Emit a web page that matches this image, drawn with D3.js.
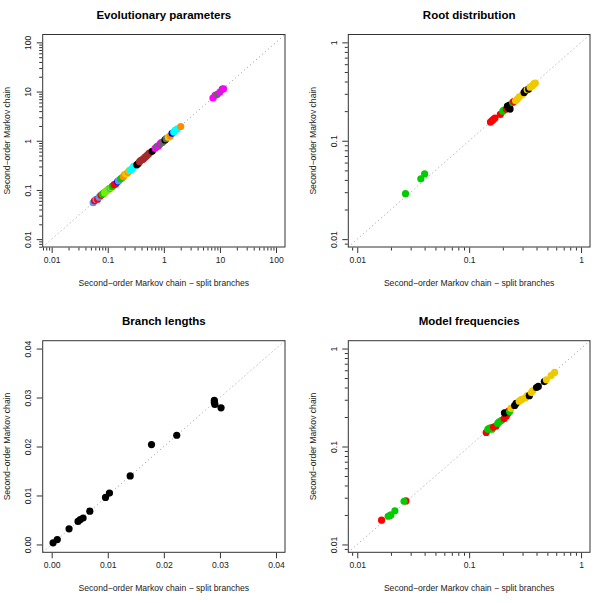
<!DOCTYPE html>
<html>
<head>
<meta charset="utf-8">
<script src="https://cdn.jsdelivr.net/npm/d3@7"></script>
<style>
  html, body { margin: 0; padding: 0; background: #fff; }
  svg { display: block; font-family: "Liberation Sans", Arial, Helvetica, sans-serif; }
</style>
</head>
<body>
<svg id="chart" width="600" height="603"></svg>
<script>
// ---------------- DATA ----------------
const titles = ["Evolutionary parameters", "Root distribution", "Branch lengths", "Model frequencies"];
const xAxisLabel = "Second\u2212order Markov chain \u2212 split branches";
const yAxisLabel = "Second\u2212order Markov chain";

const logTicksWide = [0.01, 0.1, 1, 10, 100];
const logTickLabelsWide = ["0.01", "0.1", "1", "10", "100"];
const logTicksNarrow = [0.01, 0.1, 1];
const logTickLabelsNarrow = ["0.01", "0.1", "1"];
const linTicks = [0, 0.01, 0.02, 0.03, 0.04];
const linTickLabels = ["0.00", "0.01", "0.02", "0.03", "0.04"];

// Panel 1: evolutionary parameters
const evoX = [0.055,0.058,0.062,0.066,0.070,0.073,0.076,0.080,0.085,0.088,0.092,0.096,0.100,0.105,0.110,0.115,0.120,0.130,0.140,0.150,0.155,0.160,0.170,0.180,0.190,0.200,0.210,0.220,0.230,0.240,0.250,0.270,0.290,0.310,0.330,0.350,0.370,0.390,0.410,0.430,0.450,0.470,0.500,0.520,0.550,0.620,0.700,0.750,0.800,0.850,0.900,0.950,1.050,1.100,1.200,1.300,1.400,1.500,1.600,1.750,2.000,7.5,8.2,9.0,10.0,11.0,11.6];
const evoY = [0.055,0.060,0.064,0.065,0.071,0.075,0.078,0.082,0.086,0.087,0.094,0.097,0.100,0.106,0.108,0.112,0.118,0.128,0.133,0.148,0.152,0.158,0.168,0.176,0.185,0.205,0.210,0.215,0.228,0.245,0.252,0.268,0.300,0.305,0.325,0.345,0.375,0.400,0.410,0.425,0.450,0.470,0.500,0.525,0.560,0.610,0.700,0.760,0.780,0.850,0.920,0.930,1.040,1.100,1.180,1.250,1.420,1.500,1.650,1.750,1.950,7.4,8.4,8.8,9.8,11.2,11.4];
const evoCol = ["cornflowerblue","red","cornflowerblue","red","cornflowerblue","cornflowerblue","red","green3","green3","chartreuse2","chartreuse2","chartreuse2","chartreuse2","chartreuse2","cornflowerblue","chartreuse2","green3","red","red","blue","cornflowerblue","cornflowerblue","green3","green3","darkorange","darkorange","gold","gold","darkorange","gold","cyan","cyan","cyan","cyan","black","black","brown","brown","brown","brown","brown","brown","brown","brown","brown","black","magenta","gray40","magenta","gray40","magenta","gray40","black","gray40","gold","darkorange","blue","cyan","cyan","cyan","darkorange","magenta","magenta","gray40","magenta","gray40","magenta"];

// Panel 2: root distribution
const rootX = [0.027,0.037,0.040,0.155,0.160,0.165,0.170,0.190,0.200,0.205,0.215,0.220,0.225,0.230,0.232,0.245,0.250,0.260,0.270,0.280,0.300,0.310,0.320,0.330,0.340,0.350,0.360,0.370,0.380,0.390];
const rootY = [0.029,0.041,0.046,0.155,0.160,0.165,0.170,0.185,0.200,0.205,0.210,0.225,0.215,0.230,0.210,0.245,0.250,0.255,0.265,0.280,0.295,0.310,0.325,0.330,0.335,0.350,0.355,0.365,0.380,0.385];
const rootCol = ["green3","green3","green3","red","red","red","red","red","green3","green3","red","black","black","black","black","green3","red","gold","gold","gold","gold","black","black","gold","black","gold","gold","gold","gold","gold"];

// Panel 3: branch lengths
const branchX = [0.00025,0.0010,0.0031,0.0047,0.0051,0.0056,0.0068,0.0096,0.0103,0.0140,0.0178,0.0223,0.0290,0.0290,0.0291,0.0302];
const branchY = [0.00033,0.0010,0.0032,0.0047,0.0051,0.0054,0.0068,0.0096,0.0105,0.0140,0.0204,0.0223,0.0294,0.0290,0.0286,0.0279];
const branchCol = ["black","black","black","black","black","black","black","black","black","black","black","black","black","black","black","black"];

// Panel 4: model frequencies
const freqX = [0.0165,0.0196,0.0189,0.0200,0.0217,0.0272,0.0262,0.142,0.147,0.150,0.155,0.160,0.165,0.174,0.180,0.185,0.195,0.205,0.215,0.220,0.225,0.207,0.230,0.237,0.255,0.263,0.280,0.290,0.300,0.320,0.330,0.345,0.360,0.370,0.400,0.415,0.470,0.490,0.540,0.580];
const freqY = [0.0177,0.0197,0.0194,0.0200,0.0221,0.0278,0.0276,0.139,0.150,0.152,0.155,0.150,0.158,0.162,0.172,0.178,0.185,0.192,0.205,0.215,0.230,0.220,0.227,0.245,0.262,0.275,0.290,0.300,0.305,0.315,0.330,0.330,0.355,0.370,0.400,0.410,0.460,0.480,0.530,0.570];
const freqCol = ["red","red","green3","green3","green3","red","green3","red","green3","green3","green3","green3","red","red","green3","green3","green3","red","red","red","red","black","green3","gold","black","black","gold","gold","gold","gold","gold","black","gold","gold","black","black","black","gold","gold","gold"];

// ---------------- LAYOUT ----------------
const colorMap = {
  cornflowerblue: "#6495ED", red: "#FF0000", green3: "#00CD00", chartreuse2: "#76EE00",
  blue: "#0000FF", darkorange: "#FF8C00", gold: "#EEC900", cyan: "#00FFFF",
  black: "#000000", brown: "#A52A2A", magenta: "#FF00FF", gray40: "#666666"
};

const boxes = [
  {l: 42.7, r: 285, t: 34.5, b: 247},
  {l: 348.3, r: 590, t: 34.5, b: 247},
  {l: 42.7, r: 285, t: 340.7, b: 552.3},
  {l: 348.3, r: 590, t: 340.7, b: 552.3}
];

const panels = [
  {type: "log", lo: 0.01, hi: 100, ticks: logTicksWide, labels: logTickLabelsWide, x: evoX, y: evoY, c: evoCol},
  {type: "log", lo: 0.01, hi: 1, ticks: logTicksNarrow, labels: logTickLabelsNarrow, x: rootX, y: rootY, c: rootCol},
  {type: "lin", lo: 0, hi: 0.04, ticks: linTicks, labels: linTickLabels, x: branchX, y: branchY, c: branchCol},
  {type: "log", lo: 0.01, hi: 1, ticks: logTicksNarrow, labels: logTickLabelsNarrow, x: freqX, y: freqY, c: freqCol}
];

const svg = d3.select("#chart");
const axisColor = "#333";

panels.forEach((p, i) => {
  const bx = boxes[i];
  let xs, ys, dom;
  if (p.type === "log") {
    const a = Math.log10(p.lo), b = Math.log10(p.hi), e = (b - a) * 0.04;
    dom = [Math.pow(10, a - e), Math.pow(10, b + e)];
    xs = d3.scaleLog().domain(dom).range([bx.l, bx.r]);
    ys = d3.scaleLog().domain(dom).range([bx.b, bx.t]);
  } else {
    const e = (p.hi - p.lo) * 0.04;
    dom = [p.lo - e, p.hi + e];
    xs = d3.scaleLinear().domain(dom).range([bx.l, bx.r]);
    ys = d3.scaleLinear().domain(dom).range([bx.b, bx.t]);
  }
  const g = svg.append("g");

  // minor ticks for log axes
  let minor = [];
  if (p.type === "log") {
    for (let d = Math.floor(Math.log10(dom[0])); d <= Math.ceil(Math.log10(dom[1])); d++) {
      for (let k = 2; k <= 9; k++) {
        const v = k * Math.pow(10, d);
        if (v >= dom[0] && v <= dom[1]) minor.push(v);
      }
    }
  }

  // x axis
  const xAxis = d3.axisBottom(xs).tickValues(p.ticks).tickFormat((d, j) => p.labels[j]).tickSize(5.5).tickPadding(3.5).tickSizeOuter(0);
  const gx = g.append("g").attr("transform", `translate(0,${bx.b + 0.5})`).call(xAxis);
  gx.select(".domain").remove();
  gx.selectAll("line").attr("stroke", axisColor);
  gx.selectAll("text").attr("font-size", "8.6px").attr("fill", "#222").attr("font-family", "Liberation Sans, Arial, sans-serif");
  if (minor.length) {
    const mx = d3.axisBottom(xs).tickValues(minor).tickFormat("").tickSize(3).tickSizeOuter(0);
    const gmx = g.append("g").attr("transform", `translate(0,${bx.b + 0.5})`).call(mx);
    gmx.select(".domain").remove();
    gmx.selectAll("line").attr("stroke", axisColor);
  }
  // y axis
  const yAxis = d3.axisLeft(ys).tickValues(p.ticks).tickFormat((d, j) => p.labels[j]).tickSize(5.5).tickPadding(3.5).tickSizeOuter(0);
  const gy = g.append("g").attr("transform", `translate(${bx.l - 0.5},0)`).call(yAxis);
  gy.select(".domain").remove();
  gy.selectAll("line").attr("stroke", axisColor);
  gy.selectAll("text")
    .attr("font-size", "8.6px").attr("fill", "#222").attr("font-family", "Liberation Sans, Arial, sans-serif")
    .attr("x", null).attr("dy", null)
    .attr("text-anchor", "middle")
    .attr("transform", "translate(-11,0) rotate(-90)")
    .attr("y", 0);
  if (minor.length) {
    const my = d3.axisLeft(ys).tickValues(minor).tickFormat("").tickSize(3).tickSizeOuter(0);
    const gmy = g.append("g").attr("transform", `translate(${bx.l - 0.5},0)`).call(my);
    gmy.select(".domain").remove();
    gmy.selectAll("line").attr("stroke", axisColor);
  }

  // identity line (dotted)
  g.append("line")
    .attr("x1", xs(dom[0])).attr("y1", ys(dom[0]))
    .attr("x2", xs(dom[1])).attr("y2", ys(dom[1]))
    .attr("stroke", "#999").attr("stroke-width", 1).attr("stroke-dasharray", "1,3");

  // points
  const clipId = "clip" + i;
  svg.append("clipPath").attr("id", clipId).append("rect")
    .attr("x", bx.l).attr("y", bx.t).attr("width", bx.r - bx.l).attr("height", bx.b - bx.t);
  g.append("g").attr("clip-path", `url(#${clipId})`)
    .selectAll("circle").data(p.x.map((v, j) => ({x: v, y: p.y[j], c: p.c[j]})))
    .join("circle")
    .attr("cx", d => xs(d.x)).attr("cy", d => ys(d.y))
    .attr("r", 3.6)
    .attr("fill", d => colorMap[d.c]);

  // box
  g.append("rect")
    .attr("x", bx.l).attr("y", bx.t).attr("width", bx.r - bx.l).attr("height", bx.b - bx.t)
    .attr("fill", "none").attr("stroke", axisColor).attr("stroke-width", 1);

  const cx = (bx.l + bx.r) / 2;
  const cy = (bx.t + bx.b) / 2;
  // title
  g.append("text").attr("x", cx).attr("y", bx.t - 19.5).attr("dy", "0.35em")
    .attr("text-anchor", "middle").attr("font-size", "11.5px").attr("font-weight", "bold").attr("fill", "#000")
    .text(titles[i]);
  // x label
  g.append("text").attr("x", cx).attr("y", bx.b + 36).attr("dy", "0.35em")
    .attr("text-anchor", "middle").attr("font-size", "8.6px").attr("fill", "#222")
    .text(xAxisLabel);
  // y label
  g.append("text").attr("transform", `translate(${bx.l - 35.7},${cy}) rotate(-90)`).attr("dy", "0.35em")
    .attr("text-anchor", "middle").attr("font-size", "8.6px").attr("fill", "#222")
    .text(yAxisLabel);
});
</script>
</body>
</html>
